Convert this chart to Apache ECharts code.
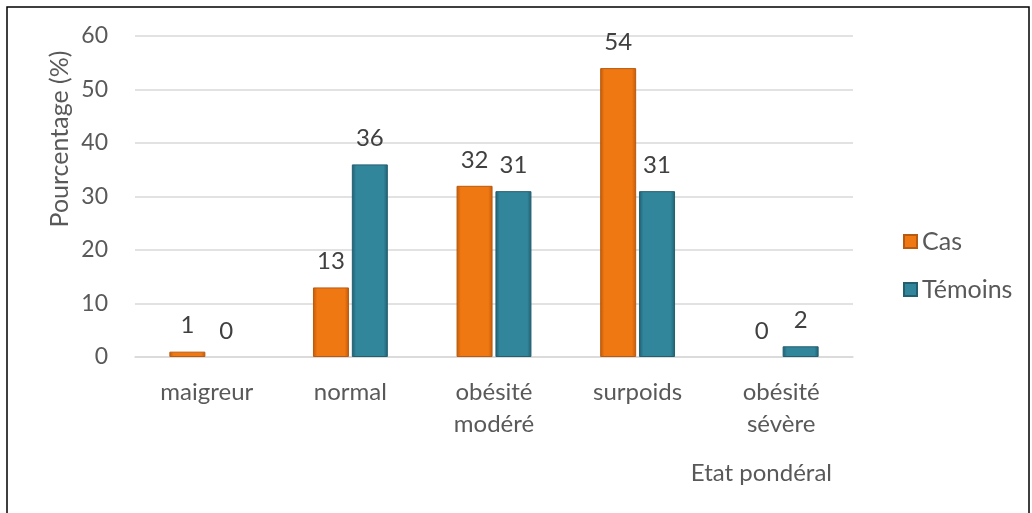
<!DOCTYPE html>
<html>
<head>
<meta charset="utf-8">
<script src="https://cdn.jsdelivr.net/npm/echarts@6/dist/echarts.min.js"></script>
<style>
  html, body { margin: 0; padding: 0; background: #fff; }
  #chart { width: 1032px; height: 513px; }
</style>
</head>
<body>
<div id="chart"></div>
<script>
// data
const categories = ['maigreur', 'normal', 'obésité\nmodéré', 'surpoids', 'obésité\nsévère']
const casValues = [1, 13, 32, 54, 0]
const temoinsValues = [0, 36, 31, 31, 2]
const yTicks = { min: 0, max: 60, interval: 10 }

const font = 'Lato, "Open Sans", sans-serif'

function bevel(edge, mid) {
  return new echarts.graphic.LinearGradient(0, 0, 1, 0, [
    { offset: 0, color: edge },
    { offset: 0.12, color: mid },
    { offset: 0.88, color: mid },
    { offset: 1, color: edge },
  ])
}

// zero values: no border, so nothing is drawn (like excel)
function toItems(arr) {
  return arr.map(v => (v === 0 ? { value: v, itemStyle: { borderWidth: 0 } } : v))
}

const myChart = echarts.init(document.getElementById('chart'))
const option = {
  animation: false,
  textStyle: { fontFamily: font },
  grid: { left: 135, right: 179, top: 36, bottom: 156 },
  legend: {
    orient: 'vertical',
    left: 898,
    top: 224,
    itemWidth: 13,
    itemHeight: 13,
    itemGap: 23,
    icon: 'rect',
    textStyle: { fontSize: 25, color: '#595959', fontFamily: font },
    data: ['Cas', 'Témoins'],
  },
  xAxis: {
    type: 'category',
    data: categories,
    axisTick: { show: false },
    axisLine: { lineStyle: { color: '#d9d9d9', width: 1.5 } },
    axisLabel: {
      color: '#595959',
      fontSize: 24,
      lineHeight: 32,
      margin: 19,
      fontFamily: font,
    },
  },
  yAxis: {
    type: 'value',
    min: yTicks.min,
    max: yTicks.max,
    interval: yTicks.interval,
    axisLine: { show: false },
    axisTick: { show: false },
    splitLine: { lineStyle: { color: '#d9d9d9', width: 1.5 } },
    axisLabel: { color: '#595959', fontSize: 23, margin: 27, fontFamily: font },
  },
  graphic: [
    {
      type: 'rect',
      shape: { x: 7, y: 7, width: 1022, height: 512 },
      style: { fill: 'none', stroke: '#000', lineWidth: 1.5 },
      silent: true,
    },
    {
      type: 'text',
      x: 60,
      y: 139,
      rotation: Math.PI / 2,
      style: {
        text: 'Pourcentage (%)',
        fontSize: 25,
        fill: '#595959',
        fontFamily: font,
        align: 'center',
        verticalAlign: 'middle',
      },
    },
    {
      type: 'text',
      x: 832,
      y: 473,
      style: {
        text: 'Etat pondéral',
        fontSize: 24,
        fill: '#595959',
        fontFamily: font,
        align: 'right',
        verticalAlign: 'middle',
      },
    },
  ],
  series: [
    {
      name: 'Cas',
      type: 'bar',
      data: toItems(casValues),
      barWidth: 36,
      barGap: '8%',
      itemStyle: {
        color: bevel('#c35a08', '#f07812'),
        borderColor: '#b85a10',
        borderWidth: 1,
      },
      label: {
        show: true,
        position: 'top',
        distance: 14,
        fontSize: 24,
        color: '#404040',
        fontFamily: font,
      },
    },
    {
      name: 'Témoins',
      type: 'bar',
      data: toItems(temoinsValues),
      barWidth: 36,
      itemStyle: {
        color: bevel('#1f5f70', '#32869c'),
        borderColor: '#245f70',
        borderWidth: 1,
      },
      label: {
        show: true,
        position: 'top',
        distance: 14,
        fontSize: 24,
        color: '#404040',
        fontFamily: font,
      },
    },
  ],
}
myChart.setOption(option, true)
</script>
</body>
</html>
